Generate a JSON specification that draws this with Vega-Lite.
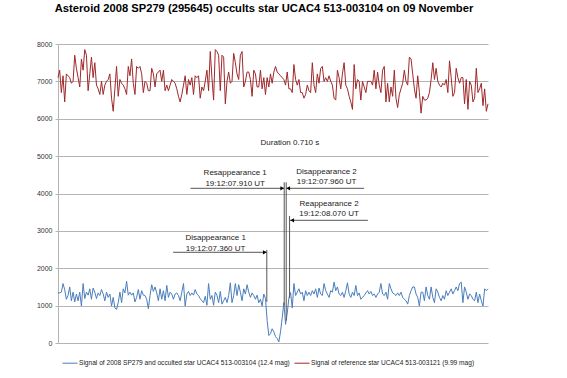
{
  "$schema": "https://vega.github.io/schema/vega-lite/v6.json",
  "width": 430,
  "height": 299,
  "autosize": "none",
  "padding": {"left": 58, "top": 44, "right": 79, "bottom": 35},
  "background": "white",
  "title": {
    "text": "Asteroid 2008 SP279 (295645) occults star UCAC4 513-003104 on 09 November",
    "font": "Liberation Sans", "fontSize": 11.2, "fontWeight": "bold", "color": "#000000",
    "anchor": "middle", "offset": 17, "baseline": "alphabetic", "dx": -9
  },
  "config": {"view": {"stroke": null}},
  "datasets": {
    "sig": [
{"f":0,"b":1340,"r":7100},{"f":1,"b":1340,"r":7300},{"f":2,"b":1360,"r":6700},{"f":3,"b":1590,"r":7150},{"f":4,"b":1430,"r":6450},{"f":5,"b":1170,"r":7200},{"f":6,"b":1270,"r":7150},{"f":7,"b":1500,"r":7100},{"f":8,"b":1130,"r":6950},{"f":9,"b":1360,"r":7000},
{"f":10,"b":1100,"r":7700},{"f":11,"b":1310,"r":7350},{"f":12,"b":1130,"r":7100},{"f":13,"b":1360,"r":6850},{"f":14,"b":990,"r":7600},{"f":15,"b":1590,"r":7300},{"f":16,"b":1190,"r":7850},{"f":17,"b":1360,"r":7700},{"f":18,"b":1280,"r":6750},{"f":19,"b":1450,"r":7200},
{"f":20,"b":1170,"r":7650},{"f":21,"b":1470,"r":7100},{"f":22,"b":1360,"r":7500},{"f":23,"b":1190,"r":6900},{"f":24,"b":1340,"r":6800},{"f":25,"b":1270,"r":6650},{"f":26,"b":1430,"r":7000},{"f":27,"b":1310,"r":6650},{"f":28,"b":1130,"r":6900},{"f":29,"b":1360,"r":7000},
{"f":30,"b":1220,"r":7050},{"f":31,"b":1310,"r":7200},{"f":32,"b":990,"r":6550},{"f":33,"b":1220,"r":6200},{"f":34,"b":940,"r":6800},{"f":35,"b":900,"r":7400},{"f":36,"b":1080,"r":6600},{"f":37,"b":1360,"r":7050},{"f":38,"b":1080,"r":6950},{"f":39,"b":1450,"r":6900},
{"f":40,"b":1340,"r":6800},{"f":41,"b":1650,"r":6650},{"f":42,"b":1280,"r":7400},{"f":43,"b":1360,"r":7150},{"f":44,"b":1280,"r":7600},{"f":45,"b":1340,"r":6950},{"f":46,"b":1100,"r":6650},{"f":47,"b":1220,"r":7400},{"f":48,"b":1430,"r":7350},{"f":49,"b":1170,"r":7400},
{"f":50,"b":1400,"r":7200},{"f":51,"b":1280,"r":6700},{"f":52,"b":1270,"r":7000},{"f":53,"b":1170,"r":6950},{"f":54,"b":920,"r":6750},{"f":55,"b":1270,"r":6750},{"f":56,"b":1560,"r":7350},{"f":57,"b":1380,"r":7200},{"f":58,"b":1500,"r":6850},{"f":59,"b":1340,"r":7200},
{"f":60,"b":1130,"r":7250},{"f":61,"b":1450,"r":7300},{"f":62,"b":1170,"r":7000},{"f":63,"b":1400,"r":7300},{"f":64,"b":1130,"r":6750},{"f":65,"b":1540,"r":6900},{"f":66,"b":1220,"r":6750},{"f":67,"b":1360,"r":6900},{"f":68,"b":1310,"r":7050},{"f":69,"b":1170,"r":7000},
{"f":70,"b":1310,"r":6950},{"f":71,"b":1340,"r":6800},{"f":72,"b":1270,"r":6600},{"f":73,"b":1130,"r":6450},{"f":74,"b":1360,"r":6650},{"f":75,"b":1590,"r":6900},{"f":76,"b":990,"r":7150},{"f":77,"b":1310,"r":6650},{"f":78,"b":1380,"r":7050},{"f":79,"b":1270,"r":6900},
{"f":80,"b":1340,"r":7100},{"f":81,"b":1280,"r":6650},{"f":82,"b":1430,"r":7150},{"f":83,"b":1310,"r":7100},{"f":84,"b":1270,"r":7150},{"f":85,"b":1190,"r":6550},{"f":86,"b":1130,"r":6850},{"f":87,"b":1080,"r":6750},{"f":88,"b":1250,"r":7000},{"f":89,"b":1010,"r":7300},
{"f":90,"b":1590,"r":6750},{"f":91,"b":1170,"r":7800},{"f":92,"b":1270,"r":7100},{"f":93,"b":1010,"r":6500},{"f":94,"b":1360,"r":7850},{"f":95,"b":1280,"r":7800},{"f":96,"b":1080,"r":7700},{"f":97,"b":1380,"r":6750},{"f":98,"b":1040,"r":7700},{"f":99,"b":1130,"r":7650},
{"f":100,"b":1220,"r":6400},{"f":101,"b":1080,"r":7000},{"f":102,"b":1270,"r":7250},{"f":103,"b":1610,"r":6950},{"f":104,"b":1080,"r":7000},{"f":105,"b":1270,"r":7750},{"f":106,"b":1590,"r":7500},{"f":107,"b":1270,"r":7200},{"f":108,"b":1560,"r":7050},{"f":109,"b":1360,"r":7700},
{"f":110,"b":1130,"r":7800},{"f":111,"b":1450,"r":6850},{"f":112,"b":1310,"r":7000},{"f":113,"b":1560,"r":7250},{"f":114,"b":1360,"r":7250},{"f":115,"b":1220,"r":7050},{"f":116,"b":1340,"r":6600},{"f":117,"b":1270,"r":7300},{"f":118,"b":1170,"r":7200},{"f":119,"b":1280,"r":6850},
{"f":120,"b":1080,"r":6850},{"f":121,"b":1170,"r":7300},{"f":122,"b":990,"r":6800},{"f":123,"b":1310,"r":7100},{"f":124,"b":1190,"r":6650},{"f":125,"b":600,"r":7100},{"f":126,"b":200,"r":6850},{"f":127,"b":250,"r":7200},{"f":128,"b":380,"r":6950},{"f":129,"b":300,"r":7250},
{"f":130,"b":170,"r":7400},{"f":131,"b":120,"r":7250},{"f":132,"b":30,"r":7200},{"f":133,"b":300,"r":7150},{"f":134,"b":670,"r":7100},{"f":135,"b":1080,"r":7050},{"f":136,"b":500,"r":6900},{"f":137,"b":800,"r":7250},{"f":138,"b":1200,"r":6800},{"f":139,"b":1350,"r":6800},
{"f":140,"b":940,"r":6700},{"f":141,"b":1590,"r":7450},{"f":142,"b":1270,"r":7050},{"f":143,"b":1360,"r":6900},{"f":144,"b":1450,"r":7050},{"f":145,"b":1310,"r":6700},{"f":146,"b":1360,"r":6700},{"f":147,"b":1130,"r":6550},{"f":148,"b":1400,"r":6650},{"f":149,"b":1270,"r":6900},
{"f":150,"b":1360,"r":6750},{"f":151,"b":1270,"r":6700},{"f":152,"b":1400,"r":7500},{"f":153,"b":1310,"r":6900},{"f":154,"b":1450,"r":6700},{"f":155,"b":1220,"r":7200},{"f":156,"b":1470,"r":6950},{"f":157,"b":1310,"r":7350},{"f":158,"b":1270,"r":7400},{"f":159,"b":1590,"r":7000},
{"f":160,"b":1400,"r":7100},{"f":161,"b":1310,"r":7000},{"f":162,"b":1220,"r":7150},{"f":163,"b":1400,"r":7000},{"f":164,"b":1360,"r":6900},{"f":165,"b":1630,"r":6550},{"f":166,"b":1400,"r":6500},{"f":167,"b":1500,"r":7300},{"f":168,"b":1310,"r":7100},{"f":169,"b":1270,"r":6800},
{"f":170,"b":1360,"r":7200},{"f":171,"b":1220,"r":7500},{"f":172,"b":1400,"r":6900},{"f":173,"b":1610,"r":6800},{"f":174,"b":1310,"r":6600},{"f":175,"b":1220,"r":6450},{"f":176,"b":1360,"r":6250},{"f":177,"b":1270,"r":7450},{"f":178,"b":1540,"r":6800},{"f":179,"b":1270,"r":7050},
{"f":180,"b":1340,"r":7000},{"f":181,"b":1170,"r":6500},{"f":182,"b":1220,"r":7000},{"f":183,"b":1270,"r":6850},{"f":184,"b":1340,"r":6700},{"f":185,"b":1400,"r":7000},{"f":186,"b":1310,"r":7000},{"f":187,"b":1380,"r":7000},{"f":188,"b":1270,"r":6900},{"f":189,"b":1310,"r":7300},
{"f":190,"b":1220,"r":6800},{"f":191,"b":1310,"r":7250},{"f":192,"b":1360,"r":6900},{"f":193,"b":1590,"r":6700},{"f":194,"b":1310,"r":7300},{"f":195,"b":1270,"r":7400},{"f":196,"b":1360,"r":6450},{"f":197,"b":1170,"r":6950},{"f":198,"b":1590,"r":6450},{"f":199,"b":1450,"r":6850},
{"f":200,"b":1340,"r":6600},{"f":201,"b":1310,"r":7300},{"f":202,"b":1270,"r":6550},{"f":203,"b":1340,"r":6300},{"f":204,"b":1270,"r":6650},{"f":205,"b":1360,"r":6800},{"f":206,"b":1220,"r":6950},{"f":207,"b":1170,"r":7300},{"f":208,"b":1130,"r":7000},{"f":209,"b":1040,"r":6900},
{"f":210,"b":1270,"r":7650},{"f":211,"b":1400,"r":7600},{"f":212,"b":1500,"r":7200},{"f":213,"b":1500,"r":6800},{"f":214,"b":1310,"r":6550},{"f":215,"b":1220,"r":7150},{"f":216,"b":990,"r":6700},{"f":217,"b":1360,"r":6150},{"f":218,"b":1360,"r":6600},{"f":219,"b":1130,"r":6500},
{"f":220,"b":1500,"r":6500},{"f":221,"b":1270,"r":6550},{"f":222,"b":1170,"r":6700},{"f":223,"b":1500,"r":7050},{"f":224,"b":1220,"r":7500},{"f":225,"b":1080,"r":7050},{"f":226,"b":1450,"r":7350},{"f":227,"b":1360,"r":7000},{"f":228,"b":1220,"r":6900},{"f":229,"b":1130,"r":6850},
{"f":230,"b":1270,"r":6950},{"f":231,"b":1170,"r":6900},{"f":232,"b":1400,"r":7050},{"f":233,"b":1270,"r":6700},{"f":234,"b":1360,"r":7550},{"f":235,"b":1450,"r":7100},{"f":236,"b":1310,"r":6600},{"f":237,"b":1400,"r":6700},{"f":238,"b":1500,"r":7350},{"f":239,"b":1400,"r":7100},
{"f":240,"b":1590,"r":6950},{"f":241,"b":1630,"r":7100},{"f":242,"b":1080,"r":7100},{"f":243,"b":1500,"r":6400},{"f":244,"b":1360,"r":7050},{"f":245,"b":1170,"r":6250},{"f":246,"b":1310,"r":7000},{"f":247,"b":1270,"r":6900},{"f":248,"b":1170,"r":6450},{"f":249,"b":1130,"r":6550},
{"f":250,"b":1360,"r":7350},{"f":251,"b":1080,"r":6700},{"f":252,"b":1310,"r":6800},{"f":253,"b":1130,"r":6950},{"f":254,"b":990,"r":6350},{"f":255,"b":1450,"r":6800},{"f":256,"b":1400,"r":6200},{"f":257,"b":1450,"r":6400}
    ],
    "vlines": [
      {"event": "Disappearance 1", "f": 124.8, "v": 1100, "hi": 2490},
      {"event": "Resappearance 1", "f": 135.2, "v": 1000, "hi": 4300},
      {"event": "Disappearance 2", "f": 136.4, "v": 600, "hi": 4300},
      {"event": "Reappearance 2", "f": 138.4, "v": 1200, "hi": 3400}
    ],
    "arrows": [
      {"event": "Disappearance 1", "from": 68.8, "to": 124.8, "v": 2427, "head": 123.6, "dir": "right"},
      {"event": "Resappearance 1", "from": 79.2, "to": 135.2, "v": 4139, "head": 134.0, "dir": "right"},
      {"event": "Disappearance 2", "from": 136.4, "to": 183.0, "v": 4139, "head": 137.6, "dir": "left"},
      {"event": "Reappearance 2", "from": 138.4, "to": 185.2, "v": 3283, "head": 140.0, "dir": "left"}
    ],
    "labels": [
      {"f": 105.9, "v": 4540, "text": "Resappearance 1"},
      {"f": 105.9, "v": 4254, "text": "19:12:07.910 UT"},
      {"f": 160.5, "v": 4583, "text": "Disappearance 2"},
      {"f": 160.5, "v": 4316, "text": "19:12:07.960 UT"},
      {"f": 162.0, "v": 3719, "text": "Reappearance 2"},
      {"f": 162.0, "v": 3452, "text": "19:12:08.070 UT"},
      {"f": 94.2, "v": 2801, "text": "Disappearance 1"},
      {"f": 94.2, "v": 2507, "text": "19:12:07.360 UT"},
      {"f": 138.6, "v": 5359, "text": "Duration 0.710 s"}
    ]
  },
  "encoding": {
    "y": {
      "field": "v", "type": "quantitative",
      "scale": {"domain": [0, 8000], "nice": false},
      "axis": {
        "title": null, "values": [0, 1000, 2000, 3000, 4000, 5000, 6000, 7000, 8000],
        "format": "d", "labelOverlap": false,
        "grid": true, "gridColor": "#b4b4b4", "gridWidth": 1,
        "domain": true, "domainColor": "#b4b4b4", "domainWidth": 1,
        "ticks": true, "tickSize": 3, "tickColor": "#b4b4b4",
        "labelFont": "Liberation Sans", "labelFontSize": 7, "labelColor": "#333333", "labelPadding": 3
      }
    }
  },
  "layer": [
    {
      "data": {"name": "sig"},
      "transform": [{"fold": ["b", "r"], "as": ["series", "v"]}],
      "mark": {"type": "line", "strokeWidth": 1},
      "encoding": {
        "x": {"field": "f", "type": "quantitative", "scale": {"domain": [0, 257], "nice": false, "zero": false}, "axis": null},
        "color": {
          "field": "series", "type": "nominal",
          "scale": {"domain": ["b", "r"], "range": ["#4A7EBB", "#A0282A"]},
          "legend": {
            "orient": "none", "legendX": 4, "legendY": 311, "direction": "horizontal",
            "title": null, "symbolType": "stroke", "symbolStrokeWidth": 1, "symbolSize": 225,
            "labelFont": "Liberation Sans", "labelFontSize": 6.6, "labelColor": "#222222",
            "labelLimit": 400, "columnPadding": 2, "labelOffset": 1,
            "labelExpr": "datum.label == 'b' ? 'Signal of 2008 SP279 and occulted star UCAC4 513-003104 (12.4 mag)' : 'Signal of reference star UCAC4 513-003121 (9.99 mag)'"
          }
        }
      }
    },
    {
      "data": {"name": "vlines"},
      "mark": {"type": "rule", "color": "#555555", "strokeWidth": 1},
      "encoding": {
        "x": {"field": "f", "type": "quantitative"},
        "y2": {"field": "hi"}
      }
    },
    {
      "data": {"name": "arrows"},
      "mark": {"type": "rule", "color": "#555555", "strokeWidth": 1},
      "encoding": {
        "x": {"field": "from", "type": "quantitative"},
        "x2": {"field": "to"}
      }
    },
    {
      "data": {"name": "arrows"},
      "mark": {"type": "point", "filled": true, "color": "#000000", "size": 18, "opacity": 1},
      "encoding": {
        "x": {"field": "head", "type": "quantitative"},
        "shape": {"field": "dir", "type": "nominal", "scale": {"domain": ["right", "left"], "range": ["triangle-right", "triangle-left"]}, "legend": null}
      }
    },
    {
      "data": {"name": "labels"},
      "mark": {"type": "text", "font": "Liberation Sans", "fontSize": 8, "color": "#222222", "align": "center", "baseline": "middle"},
      "encoding": {
        "x": {"field": "f", "type": "quantitative"},
        "text": {"field": "text"}
      }
    }
  ]
}
